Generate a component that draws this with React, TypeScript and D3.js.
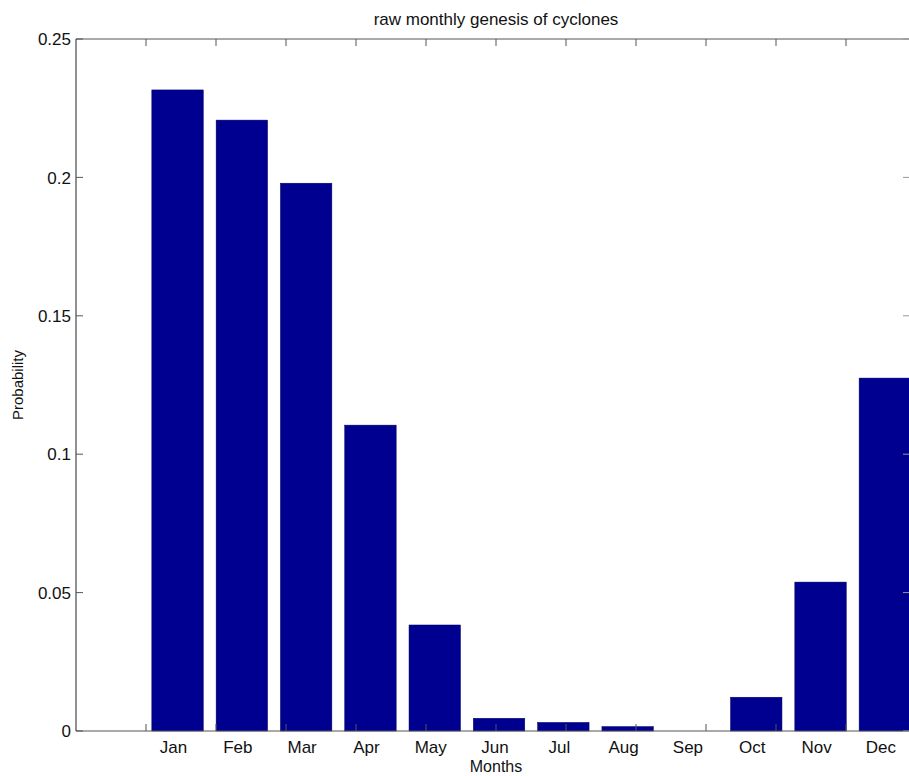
import { useEffect } from 'react';
import * as d3 from 'd3';

// chart data
const months = ['Jan', 'Feb', 'Mar', 'Apr', 'May', 'Jun', 'Jul', 'Aug', 'Sep', 'Oct', 'Nov', 'Dec'];
const probability = [0.2316, 0.2207, 0.1979, 0.1105, 0.0383, 0.0046, 0.0031, 0.0016, 0, 0.0122, 0.0538, 0.1275];
const yTicks = [0, 0.05, 0.1, 0.15, 0.2, 0.25];
const yTickLabels = ['0', '0.05', '0.1', '0.15', '0.2', '0.25'];
const frameTicks = [1, 2, 3, 4, 5, 6, 7, 8, 9, 10, 11, 12];

const W = 909;
const H = 776;
const plot = { left: 76, right: 916, top: 39, bottom: 731 };
const font = '"Liberation Sans", Arial, sans-serif';
const barColor = '#000090';
const axisColor = '#555';

const App = () => {
  useEffect(() => {
    document.body.style.margin = '0';
  }, []);

  // frame scale used by the axis box ticks
  const frame = d3.scaleLinear().domain([0, 12]).range([plot.left, plot.right]);

  const x = d3.scaleBand<string>()
    .domain(months)
    .range([frame(1) - 0.6, frame(12) + 1])
    .paddingInner(0.2)
    .paddingOuter(0.1);

  const y = d3.scaleLinear().domain([0, 0.25]).range([plot.bottom, plot.top]);

  const tickLen = 7;
  const rightEdge = 910; // right side of the box sits just off the picture

  return (
    <svg width={W} height={H} style={{ display: 'block', background: 'white' }}>
      <text x={(plot.left + plot.right) / 2} y={25} textAnchor="middle"
        fontFamily={font} fontSize={17} fill="#111">
        raw monthly genesis of cyclones
      </text>

      {/* bars */}
      {months.map((m, i) => (
        <rect key={m}
          x={x(m)}
          y={y(probability[i])}
          width={x.bandwidth()}
          height={y(0) - y(probability[i])}
          fill={barColor}
          stroke="#000060"
          strokeWidth={0.5} />
      ))}

      {/* axis box */}
      <line x1={plot.left} x2={plot.right} y1={plot.top} y2={plot.top} stroke={axisColor} />
      <line x1={plot.left} x2={plot.right} y1={plot.bottom} y2={plot.bottom} stroke={axisColor} />
      <line x1={plot.left} x2={plot.left} y1={plot.top} y2={plot.bottom} stroke="#222" />

      {/* x frame ticks */}
      {frameTicks.map(t => (
        <g key={t}>
          <line x1={frame(t)} x2={frame(t)} y1={plot.top} y2={plot.top + tickLen} stroke={axisColor} />
          <line x1={frame(t)} x2={frame(t)} y1={plot.bottom} y2={plot.bottom - tickLen} stroke={axisColor} />
        </g>
      ))}

      {/* y ticks */}
      {yTicks.map((t, i) => (
        <g key={t}>
          <line x1={plot.left} x2={plot.left + tickLen} y1={y(t)} y2={y(t)} stroke={axisColor} />
          <line x1={rightEdge} x2={rightEdge - tickLen} y1={y(t)} y2={y(t)} stroke="#999" />
          <text x={plot.left - 5} y={y(t)} dy="0.36em" textAnchor="end"
            fontFamily={font} fontSize={17} fill="#111">
            {yTickLabels[i]}
          </text>
        </g>
      ))}

      {/* month labels */}
      {months.map(m => (
        <text key={m} x={(x(m) as number) + x.bandwidth() / 2 - 4} y={753}
          textAnchor="middle" fontFamily={font} fontSize={17} fill="#111">
          {m}
        </text>
      ))}

      <text x={(plot.left + plot.right) / 2} y={772} textAnchor="middle"
        fontFamily={font} fontSize={16} fill="#111">
        Months
      </text>

      <text transform={`translate(23, ${385}) rotate(-90)`} textAnchor="middle"
        fontFamily={font} fontSize={15} fill="#111">
        Probability
      </text>
    </svg>
  );
};

export default App;
